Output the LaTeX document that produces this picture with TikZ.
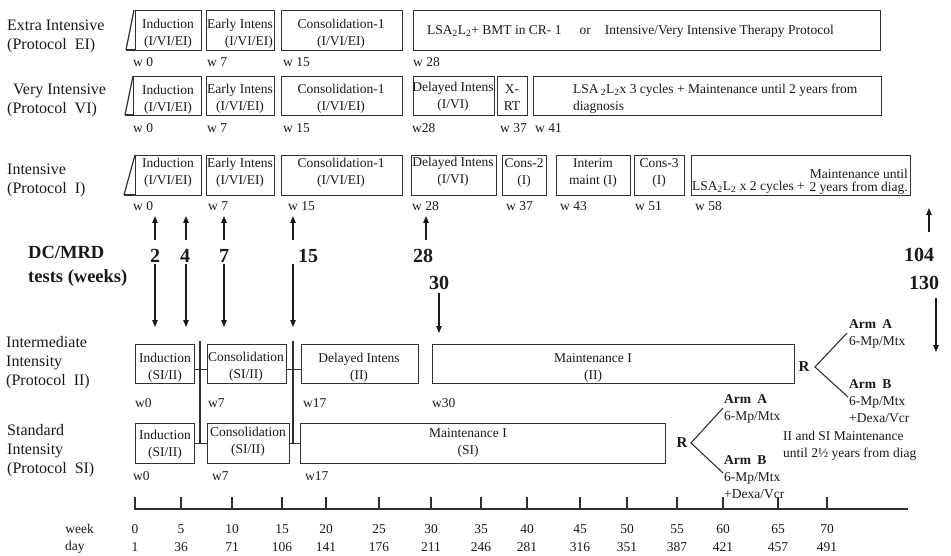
\documentclass[tikz,border=0pt]{standalone}
\usepackage{fontspec}
\setmainfont{Liberation Serif}
\usetikzlibrary{arrows.meta}
\definecolor{ink}{HTML}{1A1A1A}
\definecolor{frame}{HTML}{303030}
\newcommand\bx[5]{\node[box, minimum width=#4pt-#2pt, minimum height=#5pt-#3pt] (#1) at (#2,#3) {};}
\begin{document}
\begin{tikzpicture}[x=1pt,y=-1pt,
  box/.style={draw=frame, line width=1.3pt, anchor=north west, inner sep=0pt},
  txt/.style={inner sep=0pt, align=center, text=ink, font=\fontsize{13.5}{17}\selectfont},
  wl/.style={inner sep=0pt, anchor=west, text=ink, font=\fontsize{13.5}{16}\selectfont},
  side/.style={inner sep=0pt, anchor=west, align=left, text=ink, font=\fontsize{16}{19}\selectfont},
  num/.style={inner sep=0pt, text=ink, font=\fontsize{20}{24}\selectfont\bfseries},
  arm/.style={inner sep=0pt, anchor=west, align=left, text=ink, font=\fontsize{13.5}{17}\selectfont},
  rlab/.style={inner sep=0pt, text=ink, font=\fontsize{15}{18}\selectfont\bfseries},
  arr/.style={draw=ink, line width=1.1pt, -{Triangle[length=7pt,width=5.5pt]}},
  conn/.style={draw=frame, line width=1.1pt},
  slant/.style={draw=frame, line width=1.2pt}]
\fill[white] (0,0) rectangle (951,556);
\useasboundingbox (0,0) rectangle (951,556);

% ---------- side labels ----------
\node[side] (lEI) at (7,36) {Extra Intensive\\(Protocol\ \ EI)};
\node[side] (lVI) at (7,100) {\hspace*{6pt}Very Intensive\\(Protocol\ \ VI)};
\node[side] (lI) at (7,180) {Intensive\\(Protocol\ \ I)};
\node[inner sep=0pt, anchor=west, align=left, text=ink, font=\fontsize{18.5}{24}\selectfont\bfseries] (lDC) at (28,266) {DC/MRD\\tests (weeks)};
\node[side] (lII) at (6,363) {Intermediate\\Intensity\\(Protocol\ \ II)};
\node[side] (lSI) at (7,451) {Standard\\Intensity\\(Protocol\ \ SI)};

% ---------- EI row ----------
\draw[slant] (126,50) -- (134,10);
\draw[slant] (126,50) -- (135,50);
\bx{eiInd}{135}{10}{201}{50}
\bx{eiEarly}{206}{10}{274}{50}
\bx{eiCons}{281}{10}{402}{50}
\bx{eiLSA}{413}{10}{880}{50}
\node[txt] (eiIndT) at (168,34) {Induction\\(I/VI/EI)};
\node[txt, align=right, anchor=east] (eiEarlyT) at (273,34) {Early Intens\\(I/VI/EI)};
\node[txt] (eiConsT) at (341,34) {Consolidation-1\\(I/VI/EI)};
\node[wl] (eiLSAT) at (427,31) {LSA\textsubscript{2}L\textsubscript{2}+ BMT in CR- 1\hspace{18pt}or\hspace{14pt}Intensive/Very Intensive Therapy Protocol};
\node[wl] (eiW0) at (133,62) {w 0};
\node[wl] (eiW7) at (207,62) {w 7};
\node[wl] (eiW15) at (283,62) {w 15};
\node[wl] (eiW28) at (413,62) {w 28};

% ---------- VI row ----------
\draw[slant] (125,115) -- (133,76);
\draw[slant] (125,115) -- (133,115);
\bx{viInd}{133}{76}{201}{115}
\bx{viEarly}{206}{76}{274}{115}
\bx{viCons}{281}{76}{402}{115}
\bx{viDel}{413}{76}{494}{115}
\bx{viXRT}{497}{76}{527}{115}
\bx{viLSA}{533}{76}{881}{115}
\node[txt] (viIndT) at (168,100) {Induction\\(I/VI/EI)};
\node[txt] (viEarlyT) at (240,98.5) {Early Intens\\(I/VI/EI)};
\node[txt] (viConsT) at (341,98.5) {Consolidation-1\\(I/VI/EI)};
\node[txt] (viDelT) at (453,97) {Delayed Intens\\(I/VI)};
\node[txt] (viXRTT) at (512,98) {X-\\RT};
\node[txt, align=left, anchor=west] (viLSAT) at (573,98.5) {LSA\,\textsubscript{2}L\textsubscript{2}x 3 cycles + Maintenance until 2 years from\\diagnosis};
\node[wl] (viW0) at (133,128) {w 0};
\node[wl] (viW7) at (207,128) {w 7};
\node[wl] (viW15) at (283,128) {w 15};
\node[wl] (viW28) at (412,128) {w28};
\node[wl] (viW37) at (500,128) {w 37};
\node[wl] (viW41) at (535,128) {w 41};

% ---------- I row ----------
\draw[slant] (124,195) -- (135,155);
\draw[slant] (124,195) -- (135,195);
\bx{iInd}{135}{155}{201}{195}
\bx{iEarly}{206}{155}{274}{195}
\bx{iCons}{281}{155}{402}{195}
\bx{iDel}{411}{155}{496}{195}
\bx{iC2}{502}{155}{546}{195}
\bx{iInt}{556}{155}{630}{195}
\bx{iC3}{634}{155}{684}{195}
\bx{iLSA}{691}{155}{910}{195}
\node[txt] (iIndT) at (168,173) {Induction\\(I/VI/EI)};
\node[txt] (iEarlyT) at (240,173) {Early Intens\\(I/VI/EI)};
\node[txt] (iConsT) at (341,173) {Consolidation-1\\(I/VI/EI)};
\node[txt] (iDelT) at (453,172) {Delayed Intens\\(I/VI)};
\node[txt] (iC2T) at (524,173) {Cons-2\\(I)};
\node[txt] (iIntT) at (593,173) {Interim\\maint (I)};
\node[txt] (iC3T) at (659,173) {Cons-3\\(I)};
\node[wl] (iLSAa) at (692,187) {LSA\textsubscript{2}L\textsubscript{2} x 2 cycles +};
\node[txt, align=right, anchor=east, font=\fontsize{13.5}{13.5}\selectfont] (iLSAb) at (908,182) {Maintenance until\\2 years from diag.};
\node[wl] (iW0) at (133,206) {w 0};
\node[wl] (iW7) at (208,206) {w 7};
\node[wl] (iW15) at (288,206) {w 15};
\node[wl] (iW28) at (412,206) {w 28};
\node[wl] (iW37) at (506,206) {w 37};
\node[wl] (iW43) at (560,206) {w 43};
\node[wl] (iW51) at (635,206) {w 51};
\node[wl] (iW58) at (695,206) {w 58};

% ---------- DC/MRD numbers and arrows ----------
\node[num] (n2) at (155,256) {2};
\node[num] (n4) at (185,256) {4};
\node[num] (n7) at (224,256) {7};
\node[num] (n15) at (308,256) {15};
\node[num] (n28) at (423,256) {28};
\node[num] (n104) at (919,255) {104};
\node[num] (n30) at (439,283) {30};
\node[num] (n130) at (924,283) {130};
\foreach \x/\n in {155/a,186/b,224/c,293/d,426/e}{
  \coordinate (up\n t) at (\x,240);
  \coordinate (up\n h) at (\x,216);
  \draw[arr] (up\n t) -- (up\n h);
}
\foreach \x/\n in {155/a,186/b,224/c,293/d}{
  \coordinate (dn\n t) at (\x,264);
  \coordinate (dn\n h) at (\x,327);
  \draw[arr] (dn\n t) -- (dn\n h);
}
\coordinate (u104t) at (929,232); \coordinate (u104h) at (929,208);
\draw[arr] (u104t) -- (u104h);
\coordinate (d30t) at (439,293); \coordinate (d30h) at (439,333);
\draw[arr] (d30t) -- (d30h);
\coordinate (d130t) at (936,298); \coordinate (d130h) at (936,352);
\draw[arr] (d130t) -- (d130h);

% ---------- II row ----------
\bx{iiInd}{135}{344}{194}{383}
\bx{iiCons}{207}{344}{286}{383}
\bx{iiDel}{301}{344}{418}{383}
\bx{iiMnt}{432}{344}{794}{383}
\node[txt] (iiIndT) at (165,368) {Induction\\(SI/II)};
\node[txt] (iiConsT) at (246,367) {Consolidation\\(SI/II)};
\node[txt] (iiDelT) at (359,368) {Delayed Intens\\(II)};
\node[txt] (iiMntT) at (593,368) {Maintenance I\\(II)};
\node[wl] (iiW0) at (135,403) {w0};
\node[wl] (iiW7) at (208,403) {w7};
\node[wl] (iiW17) at (303,403) {w17};
\node[wl] (iiW30) at (432,403) {w30};
\draw[conn] ([yshift=-5.5pt]iiInd.east) -- ([yshift=-5.5pt]iiCons.west);
\draw[conn] ([yshift=-5.5pt]iiCons.east) -- ([yshift=-5.5pt]iiDel.west);

% ---------- SI row ----------
\bx{siInd}{135}{423}{194}{463}
\bx{siCons}{207}{423}{289}{463}
\bx{siMnt}{300}{423}{665}{463}
\node[txt] (siIndT) at (165,445) {Induction\\(SI/II)};
\node[txt] (siConsT) at (248,442) {Consolidation\\(SI/II)};
\node[txt] (siMntT) at (468,443) {Maintenance I\\(SI)};
\node[wl] (siW0) at (133,476) {w0};
\node[wl] (siW7) at (212,476) {w7};
\node[wl] (siW17) at (305,476) {w17};
\draw[conn] (siInd.east) -- (siCons.west);
\draw[conn] (siCons.east) -- (siMnt.west);

% vertical joins between II and SI
\coordinate (va t) at (200,341); \coordinate (va b) at (200,443);
\coordinate (vb t) at (293,341); \coordinate (vb b) at (293,443);
\draw[conn] (va t) -- (va b);
\draw[conn] (vb t) -- (vb b);

% ---------- randomisation II ----------
\node[rlab] (rII) at (804,367) {R};
\coordinate (rIIo) at (815,367);
\coordinate (rIIa) at (847,333);
\coordinate (rIIb) at (848,397);
\draw[conn] (rIIa) -- (rIIo) -- (rIIb);
\node[arm] (iiArmA) at (849,334) {\textbf{Arm\hspace{.45em}A}\\6-Mp/Mtx};
\node[arm] (iiArmB) at (849,401) {\textbf{Arm\hspace{.45em}B}\\6-Mp/Mtx\\+Dexa/Vcr};

% ---------- randomisation SI ----------
\node[rlab] (rSI) at (682,443) {R};
\coordinate (rSIo) at (691,443);
\coordinate (rSIa) at (723,408);
\coordinate (rSIb) at (723,473);
\draw[conn] (rSIa) -- (rSIo) -- (rSIb);
\node[arm] (siArmA) at (724,408.5) {\textbf{Arm\hspace{.45em}A}\\6-Mp/Mtx};
\node[arm] (siArmB) at (724,477.5) {\textbf{Arm\hspace{.45em}B}\\6-Mp/Mtx\\+Dexa/Vcr};
\node[arm] (mntNote) at (783,445.5) {II and SI Maintenance\\until 2½ years from diag};

% ---------- time axis ----------
\coordinate (ax0) at (135,509);
\coordinate (ax1) at (908,509);
\draw[conn] (ax0) -- (ax1);
\foreach \x/\w/\d [count=\i] in {135/0/1,181/5/36,232/10/71,282/15/106,326/20/141,379/25/176,431/30/211,481/35/246,527/40/281,580/45/316,627/50/351,677/55/387,723/60/421,778/65/457,827/70/491}{
  \draw[conn] (\x,497) -- (\x,510);
  \node[wl, anchor=center] (wk\i) at (\x,529) {\w};
  \node[wl, anchor=center] (dy\i) at (\x,547) {\d};
}
\node[wl, anchor=east] (wkLab) at (94,529) {week};
\node[wl] (dyLab) at (65,547) {day};
\end{tikzpicture}
\end{document}
